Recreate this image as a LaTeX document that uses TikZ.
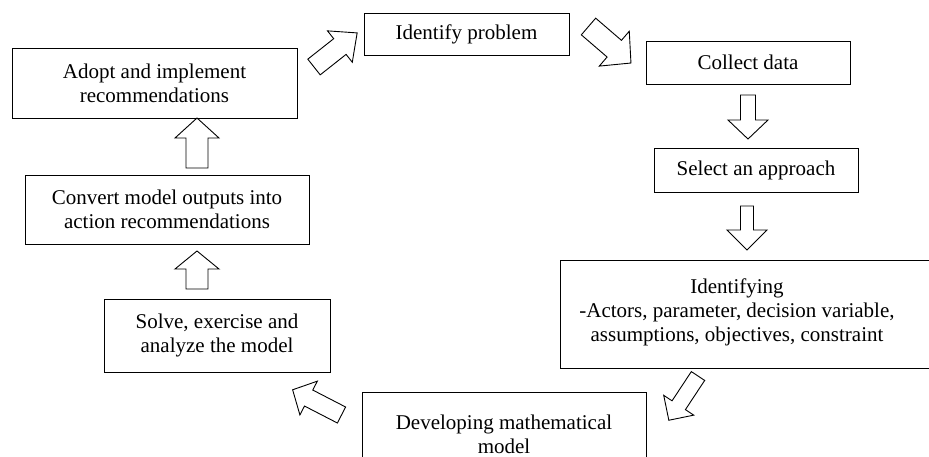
\documentclass[tikz,border=0pt]{standalone}
\usepackage{fontspec}
\setmainfont{Liberation Serif}
\newcommand\blockarr[7]{%
  \begin{scope}[shift={(#1,#2)},rotate=#3]
    \draw[barrow] (0,{#5/2}) -- ({#4-#7},{#5/2}) -- ({#4-#7},{#6/2}) -- (#4,0)
      -- ({#4-#7},{-#6/2}) -- ({#4-#7},{-#5/2}) -- (0,{-#5/2}) -- cycle;
  \end{scope}}
\begin{document}
\begin{tikzpicture}[x=1pt,y=-1pt,
  box/.style={draw=black,line width=1pt,fill=white,align=center,inner sep=0pt,
    font=\fontsize{21}{24}\selectfont},
  txt/.style={align=center,inner sep=0pt,font=\fontsize{21}{24}\selectfont},
  barrow/.style={draw=black,line width=0.9pt,fill=white,line join=miter}]
\useasboundingbox (0,0) rectangle (929,456);
\clip (0,0) rectangle (929,456);
\fill[white] (0,0) rectangle (929,456);
% boxes
\node[box,minimum width=205pt,minimum height=42pt] (identify) at (466.5,34) {Identify problem};
\node[box,minimum width=204pt,minimum height=43pt] (collect) at (748,62.5) {Collect data};
\node[box,minimum width=204pt,minimum height=44pt] (select) at (756,170) {Select an approach};
\node[box,minimum width=380pt,minimum height=108pt] (identbox) at (750,314) {};
\node[txt] (ident) at (737,312) {Identifying\\-Actors, parameter, decision variable,\\assumptions, objectives, constraint};
\node[box,minimum width=284pt,minimum height=84pt] (develop) at (504,434) {Developing mathematical\\model};
\node[box,minimum width=226pt,minimum height=73pt] (solve) at (217,335.5) {Solve, exercise and\\analyze the model};
\node[box,minimum width=284pt,minimum height=69pt] (convert) at (167,209.5) {Convert model outputs into\\action recommendations};
\node[box,minimum width=285pt,minimum height=70pt] (adopt) at (154.5,83) {Adopt and implement\\recommendations};
% block arrows
\blockarr{314}{67}{38.3}{55}{20}{40}{22}
\blockarr{588.5}{26.5}{-40.7}{56}{22}{46}{22}
\blockarr{748}{95}{-90}{44}{15}{40}{19}
\blockarr{747}{206}{-90}{44}{13}{40}{20}
\blockarr{698}{376}{-123.4}{53}{16}{36}{18}
\blockarr{341.5}{415}{152.7}{55}{18}{38}{18}
\blockarr{197}{168}{90}{50}{22}{44}{20}
\blockarr{197}{289}{90}{38}{22}{44}{18}
\end{tikzpicture}
\end{document}
